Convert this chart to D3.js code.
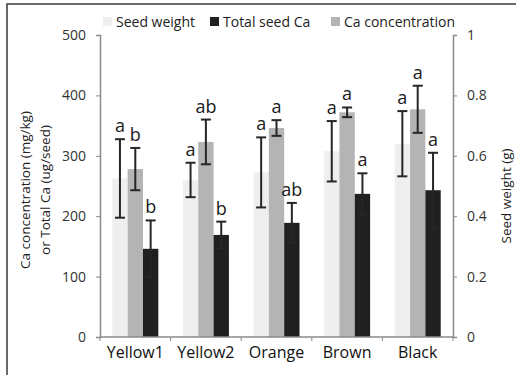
<!DOCTYPE html>
<html>
<head>
<meta charset="utf-8">
<script src="https://cdn.jsdelivr.net/npm/d3@7"></script>
<style>
  body { margin: 0; background: #fff; }
  text { font-family: "Open Sans", sans-serif; }
</style>
</head>
<body>
<svg id="chart" width="516" height="375"></svg>
<script>
const categories = ['Yellow1', 'Yellow2', 'Orange', 'Brown', 'Black'];
const seedWeight = [0.525, 0.52, 0.545, 0.615, 0.64];
const seedWeightErr = [0.13, 0.057, 0.116, 0.10, 0.108];
const caConc = [278, 323, 346, 372, 377];
const caConcErr = [35, 37, 13, 8, 39];
const totalCa = [146, 169, 189, 237, 243];
const totalCaErr = [47, 22, 33, 34, 62];
const seedLetters = ['a', 'a', 'a', 'a', 'a'];
const concLetters = ['b', 'ab', 'a', 'a', 'a'];
const totalLetters = ['b', 'b', 'ab', 'a', 'a'];
const leftTicks = [0, 100, 200, 300, 400, 500];
const rightTicks = [0, 0.2, 0.4, 0.6, 0.8, 1];

const seriesKeys = ['seed', 'conc', 'total'];
const fills = { seed: '#efefef', conc: '#b4b4b4', total: '#202020' };

const svg = d3.select('#chart');

// frame
svg.append('rect')
  .attr('x', 7).attr('y', 4)
  .attr('width', 600).attr('height', 500)
  .attr('fill', 'none')
  .attr('stroke', '#3a3a3a')
  .attr('stroke-width', 1.5);

const x0 = d3.scaleBand().domain(categories).range([100, 453]).padding(0);
const x1 = d3.scaleBand().domain(seriesKeys).range([0, x0.bandwidth()])
  .paddingInner(0).paddingOuter(0.8);
const yL = d3.scaleLinear().domain([0, 500]).range([337, 35]);
const yR = d3.scaleLinear().domain([0, 1]).range([337, 35]);

// rows built from the arrays
const rows = categories.map((c, i) => ({
  cat: c,
  seed: { v: seedWeight[i], e: seedWeightErr[i], s: yR, l: seedLetters[i] },
  conc: { v: caConc[i], e: caConcErr[i], s: yL, l: concLetters[i] },
  total: { v: totalCa[i], e: totalCaErr[i], s: yL, l: totalLetters[i] }
}));

const g = svg.selectAll('g.grp')
  .data(rows)
  .enter().append('g')
  .attr('class', 'grp')
  .attr('transform', d => 'translate(' + x0(d.cat) + ',0)');

const marks = g.selectAll('g.mark')
  .data(d => seriesKeys.map(k => Object.assign({ key: k }, d[k])))
  .enter().append('g').attr('class', 'mark');

marks.append('rect')
  .attr('x', d => x1(d.key))
  .attr('width', x1.bandwidth())
  .attr('y', d => d.s(d.v))
  .attr('height', d => d.s(0) - d.s(d.v))
  .attr('fill', d => fills[d.key]);

const cap = 5;
marks.each(function(d) {
  const m = d3.select(this);
  const cx = x1(d.key) + x1.bandwidth() / 2;
  const top = d.s(d.v + d.e), bot = d.s(d.v - d.e);
  const col = '#262626';
  m.append('line').attr('x1', cx).attr('x2', cx).attr('y1', top).attr('y2', bot)
    .attr('stroke', col).attr('stroke-width', 2);
  m.append('line').attr('x1', cx - cap).attr('x2', cx + cap).attr('y1', top).attr('y2', top)
    .attr('stroke', col).attr('stroke-width', 2);
  m.append('line').attr('x1', cx - cap).attr('x2', cx + cap).attr('y1', bot).attr('y2', bot)
    .attr('stroke', col).attr('stroke-width', 2);
  m.append('text')
    .attr('x', cx)
    .attr('y', top - 7)
    .attr('text-anchor', 'middle')
    .style('font-size', '18px')
    .style('fill', '#1a1a1a')
    .text(d.l);
});

// axes
const axisCol = '#8a8a8a';
const leftAxis = svg.append('g')
  .attr('transform', 'translate(100,0)')
  .call(d3.axisLeft(yL).tickValues(leftTicks).tickSize(4).tickPadding(10));
const rightAxis = svg.append('g')
  .attr('transform', 'translate(453,0)')
  .call(d3.axisRight(yR).tickValues(rightTicks).tickSize(4).tickPadding(10)
    .tickFormat(d3.format('')));
const bottomAxis = svg.append('g')
  .attr('transform', 'translate(0,337)')
  .call(d3.axisBottom(x0).tickSize(0).tickPadding(10));

[leftAxis, rightAxis, bottomAxis].forEach(a => {
  a.select('.domain').attr('stroke', axisCol).attr('stroke-width', 1.5);
  a.selectAll('.tick line').attr('stroke', axisCol);
});
leftAxis.selectAll('text').style('font-size', '14px').style('fill', '#333').style('font-family', '"Open Sans", sans-serif');
rightAxis.selectAll('text').style('font-size', '14px').style('fill', '#333').style('font-family', '"Open Sans", sans-serif');
bottomAxis.selectAll('text').style('font-size', '16px').style('fill', '#111').style('font-family', '"Open Sans", sans-serif');
bottomAxis.select('.domain').attr('d', 'M100,0H453');

// category boundary ticks on x axis
svg.selectAll('line.xb')
  .data(categories.concat(['end']))
  .enter().append('line')
  .attr('class', 'xb')
  .attr('x1', (d, i) => 100 + i * x0.step())
  .attr('x2', (d, i) => 100 + i * x0.step())
  .attr('y1', 337).attr('y2', 341)
  .attr('stroke', axisCol);

// axis titles
svg.append('text')
  .attr('transform', 'translate(30,190) rotate(-90)')
  .attr('text-anchor', 'middle')
  .style('font-size', '13.5px').style('fill', '#222')
  .text('Ca concentration (mg/kg)');
svg.append('text')
  .attr('transform', 'translate(50,190) rotate(-90)')
  .attr('text-anchor', 'middle')
  .style('font-size', '13.5px').style('fill', '#222')
  .text('or Total Ca (ug/seed)');
svg.append('text')
  .attr('transform', 'translate(511,196) rotate(-90)')
  .attr('text-anchor', 'middle')
  .style('font-size', '13.5px').style('fill', '#222')
  .text('Seed weight (g)');

// legend
const legendItems = [
  { name: 'Seed weight', key: 'seed', x: 103 },
  { name: 'Total seed Ca', key: 'total', x: 210 },
  { name: 'Ca concentration', key: 'conc', x: 331 }
];
const lg = svg.selectAll('g.leg')
  .data(legendItems)
  .enter().append('g')
  .attr('transform', d => 'translate(' + d.x + ',17)');
lg.append('rect').attr('width', 9).attr('height', 9)
  .attr('fill', d => fills[d.key]);
lg.append('text').attr('x', 13).attr('y', 10)
  .style('font-size', '14px').style('fill', '#222')
  .text(d => d.name);
</script>
</body>
</html>
